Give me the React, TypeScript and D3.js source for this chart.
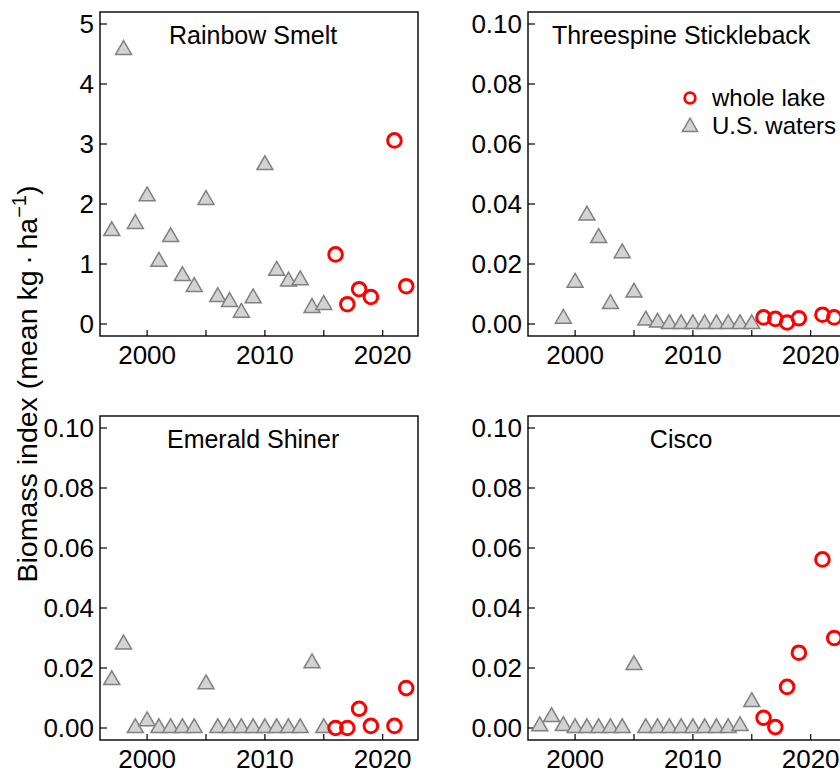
import * as d3 from "d3";

// survey years
const usYears = [1997, 1998, 1999, 2000, 2001, 2002, 2003, 2004, 2005, 2006, 2007, 2008, 2009, 2010, 2011, 2012, 2013, 2014, 2015];
const lakeYears = [2016, 2017, 2018, 2019, 2021, 2022];

// biomass index, U.S. waters (triangles)
const smeltUS = [1.55, 4.57, 1.67, 2.13, 1.04, 1.45, 0.8, 0.62, 2.07, 0.45, 0.37, 0.19, 0.43, 2.65, 0.89, 0.71, 0.73, 0.27, 0.32];
const sticklebackUS = [null, null, 0.0018, 0.0138, 0.0362, 0.0287, 0.0067, 0.0236, 0.0105, 0.0012, 0.0005, 0, 0, 0, 0, 0, 0, 0, 0];
const shinerUS = [0.016, 0.0279, 0, 0.0023, 0, 0, 0, 0, 0.0146, 0, 0, 0, 0, 0, 0, 0, 0, 0.0216, 0];
const ciscoUS = [0.0006, 0.0037, 0.0007, 0, 0, 0, 0, 0, 0.021, 0, 0, 0, 0, 0, 0, 0, 0, 0.0007, 0.0087];

// biomass index, whole lake (circles)
const smeltLake = [1.16, 0.33, 0.58, 0.45, 3.06, 0.63];
const sticklebackLake = [0.0022, 0.0017, 0.0005, 0.0019, 0.0031, 0.0022];
const shinerLake = [0, 0, 0.0064, 0.0007, 0.0007, 0.0133];
const ciscoLake = [0.0034, 0.0003, 0.0137, 0.0251, 0.0562, 0.03];

const smeltTicks = [0, 1, 2, 3, 4, 5];
const smallTicks = [0, 0.02, 0.04, 0.06, 0.08, 0.1];
const yearTicks = [2000, 2005, 2010, 2015, 2020];
const yearLabels = [2000, 2010, 2020];

const FONT = "'Liberation Sans', Arial, Helvetica, sans-serif";
const W = 840;
const H = 773;
const PW = 318;
const PH = 324;

type Panel = {
  title: string;
  us: (number | null)[];
  lake: number[];
  ymax: number;
  ticks: number[];
  fmt: (v: number) => string;
  x0: number;
  y0: number;
  legend?: boolean;
};

const panels: Panel[] = [
  { title: "Rainbow Smelt", us: smeltUS, lake: smeltLake, ymax: 5, ticks: smeltTicks, fmt: d3.format("d"), x0: 100, y0: 12 },
  { title: "Threespine Stickleback", us: sticklebackUS, lake: sticklebackLake, ymax: 0.1, ticks: smallTicks, fmt: d3.format(".2f"), x0: 528, y0: 12, legend: true },
  { title: "Emerald Shiner", us: shinerUS, lake: shinerLake, ymax: 0.1, ticks: smallTicks, fmt: d3.format(".2f"), x0: 100, y0: 416 },
  { title: "Cisco", us: ciscoUS, lake: ciscoLake, ymax: 0.1, ticks: smallTicks, fmt: d3.format(".2f"), x0: 528, y0: 416 },
];

const tri = d3.symbol(d3.symbolTriangle, 110)() as string;
const triSmall = d3.symbol(d3.symbolTriangle, 100)() as string;

function PanelView({ p }: { p: Panel }) {
  const pad = p.ymax * 0.04;
  const x = d3.scaleLinear().domain([1996, 2023]).range([p.x0, p.x0 + PW]);
  const y = d3.scaleLinear().domain([-pad, p.ymax + pad]).range([p.y0 + PH, p.y0]);
  const bottom = p.y0 + PH;
  return (
    <g>
      <rect x={p.x0} y={p.y0} width={PW} height={PH} fill="none" stroke="#000" strokeWidth={1.4} />
      {p.ticks.map((t) => (
        <g key={"y" + t}>
          <line x1={p.x0} x2={p.x0 + 7} y1={y(t)} y2={y(t)} stroke="#000" strokeWidth={1.2} />
          <text x={p.x0 - 6} y={y(t)} dy="0.36em" textAnchor="end" fontSize={26}>
            {p.fmt(t)}
          </text>
        </g>
      ))}
      {yearTicks.map((t) => (
        <line key={"x" + t} x1={x(t)} x2={x(t)} y1={bottom} y2={bottom - 6} stroke="#000" strokeWidth={1.2} />
      ))}
      {yearLabels.map((t) => (
        <text key={"xl" + t} x={x(t)} y={bottom + 28} textAnchor="middle" fontSize={26}>
          {t}
        </text>
      ))}
      <text x={x(2009)} y={p.y0 + 32} textAnchor="middle" fontSize={25}>
        {p.title}
      </text>
      {p.us.map((v, i) =>
        v === null ? null : (
          <path
            key={"u" + i}
            d={tri}
            transform={`translate(${x(usYears[i])},${y(v)})`}
            fill="#d3d3d3"
            stroke="#808080"
            strokeWidth={1.5}
          />
        )
      )}
      {p.lake.map((v, i) => (
        <circle key={"l" + i} cx={x(lakeYears[i])} cy={y(v)} r={6.8} fill="none" stroke="#ff0000" strokeWidth={3} />
      ))}
      {p.legend && (
        <g>
          <circle cx={p.x0 + 162} cy={p.y0 + 86} r={5.3} fill="none" stroke="#ff0000" strokeWidth={2.8} />
          <text x={p.x0 + 184} y={p.y0 + 94} fontSize={24}>
            whole lake
          </text>
          <path d={triSmall} transform={`translate(${p.x0 + 162},${p.y0 + 115})`} fill="#d3d3d3" stroke="#808080" strokeWidth={1.5} />
          <text x={p.x0 + 184} y={p.y0 + 122} fontSize={24}>
            U.S. waters
          </text>
        </g>
      )}
    </g>
  );
}

export default function App() {
  return (
    <div style={{ position: "fixed", left: 0, top: 0, width: W, height: H, background: "#fff" }}>
      <svg width={W} height={H} style={{ display: "block", fontFamily: FONT }}>
        <rect width={W} height={H} fill="#fff" />
        {panels.map((p) => (
          <PanelView key={p.title} p={p} />
        ))}
        <text transform="translate(37,384) rotate(-90)" textAnchor="middle" fontSize={28.5}>
          Biomass index (mean kg{"\u2009·\u2009"}ha
          <tspan dy={-11} fontSize={20}>
            −1
          </tspan>
          <tspan dy={11}>)</tspan>
        </text>
      </svg>
    </div>
  );
}
